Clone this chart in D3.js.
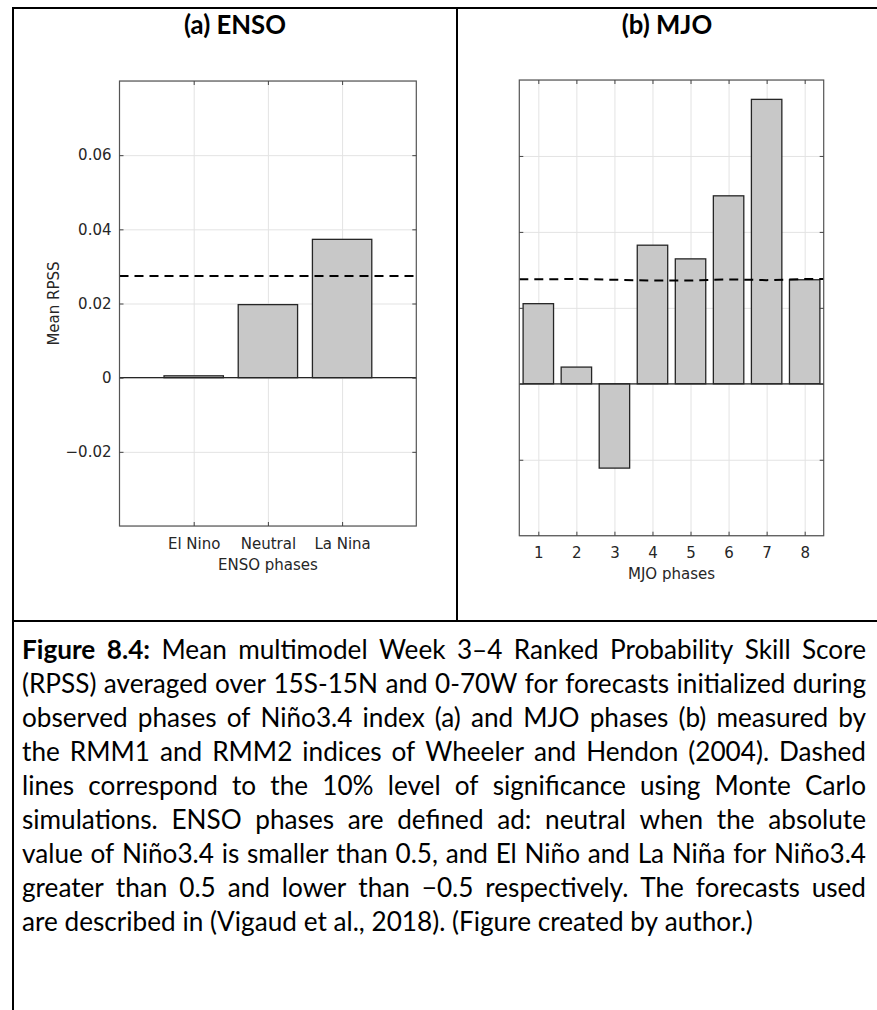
<!DOCTYPE html>
<html><head><meta charset="utf-8">
<script src="https://cdn.jsdelivr.net/npm/d3@7"></script>
<style>body{margin:0;background:#fff}</style>
</head><body><svg id="c" width="877" height="1010"></svg>
<script>
// ---------------- data ----------------
const ensoPhases = ["El Nino", "Neutral", "La Nina"];
const ensoRPSS = [0.0005, 0.0197, 0.0373];
const ensoSig = 0.0274;
const mjoPhases = ["1", "2", "3", "4", "5", "6", "7", "8"];
const mjoRPSS = [0.0211, 0.0044, -0.0222, 0.0365, 0.0329, 0.0495, 0.0749, 0.0274];
const mjoSig = [0.0275, 0.0276, 0.0274, 0.0272, 0.0272, 0.0275, 0.0273, 0.0276];
const yDomain = [-0.04, 0.08];
const yTicks = [-0.04, -0.02, 0, 0.02, 0.04, 0.06, 0.08];
const yTickLabels = ["", "\u22120.02", "0", "0.02", "0.04", "0.06", ""];
const panelTitles = ["(a) ENSO", "(b) MJO"];
const xTitles = ["ENSO phases", "MJO phases"];
const yTitle = "Mean RPSS";
const captionLead = "Figure 8.4:";
const captionLines = [
  "Figure 8.4: Mean multimodel Week 3\u20134 Ranked Probability Skill Score",
  "(RPSS) averaged over 15S-15N and 0-70W for forecasts initialized during",
  "observed phases of Ni\u00f1o3.4 index (a) and MJO phases (b) measured by",
  "the RMM1 and RMM2 indices of Wheeler and Hendon (2004). Dashed",
  "lines correspond to the 10% level of significance using Monte Carlo",
  "simulations. ENSO phases are defined ad: neutral when the absolute",
  "value of Ni\u00f1o3.4 is smaller than 0.5, and El Ni\u00f1o and La Ni\u00f1a for Ni\u00f1o3.4",
  "greater than 0.5 and lower than \u22120.5 respectively. The forecasts used",
  "are described in (Vigaud et al., 2018). (Figure created by author.)"
];

// ---------------- layout ----------------
const svg = d3.select("#c");
const AX_FONT = "'DejaVu Sans', sans-serif";
const AX_SIZE = 15;
const TXT = "#262626";
const CAP_FONT = "Lato, 'Open Sans', sans-serif";

// frame lines
const frame = svg.append("g").attr("stroke", "#000").attr("stroke-width", 2);
frame.append("line").attr("x1", 12).attr("x2", 877).attr("y1", 8).attr("y2", 8);
frame.append("line").attr("x1", 13).attr("x2", 13).attr("y1", 7).attr("y2", 1010);
frame.append("line").attr("x1", 457).attr("x2", 457).attr("y1", 7).attr("y2", 621);
frame.append("line").attr("x1", 12).attr("x2", 877).attr("y1", 621).attr("y2", 621);

// measuring helper
const meas = svg.append("text").attr("x", -1000).attr("y", -1000);
function textW(s, font, size, weight) {
  meas.attr("font-family", font).attr("font-size", size).attr("font-weight", weight || "normal").text(s);
  return meas.node().getComputedTextLength();
}

// panel titles
const titleSize = 20 * 102 / textW(panelTitles[0], CAP_FONT, 20, "bold");
[[235, panelTitles[0]], [667, panelTitles[1]]].forEach(([cx, t]) => {
  svg.append("text").attr("x", cx).attr("y", 34).attr("text-anchor", "middle")
    .attr("font-family", CAP_FONT).attr("font-weight", "bold").attr("font-size", titleSize)
    .attr("fill", "#000").text(t);
});

function panel(cfg) {
  const {x0, x1, yTop, yBot, xDomain, cats, vals, sig, showYLabels, xTitle} = cfg;
  const x = d3.scaleLinear().domain(xDomain).range([x0, x1]);
  const y = d3.scaleLinear().domain(yDomain).range([yBot, yTop]);
  const xt = cats.map((c, i) => i + 1);
  const g = svg.append("g");
  const w = x1 - x0, h = yBot - yTop;

  // grid
  const gy = g.append("g").attr("transform", `translate(${x0},0)`)
    .call(d3.axisLeft(y).tickValues(yTicks).tickSize(-w).tickFormat(""));
  const gx = g.append("g").attr("transform", `translate(0,${yBot})`)
    .call(d3.axisBottom(x).tickValues(xt).tickSize(-h).tickFormat(""));
  [gy, gx].forEach(a => {
    a.select(".domain").remove();
    a.selectAll("line").attr("stroke", "#e3e3e3").attr("stroke-width", 1);
  });

  // bars
  const step = x(2) - x(1);
  const bw = step * 0.8;
  g.selectAll("rect.bar").data(vals).enter().append("rect").attr("class", "bar")
    .attr("x", (d, i) => x(i + 1) - bw / 2)
    .attr("width", bw)
    .attr("y", d => y(Math.max(0, d)))
    .attr("height", d => Math.abs(y(d) - y(0)))
    .attr("fill", "#c8c8c8").attr("stroke", "#262626").attr("stroke-width", 1.3);

  // zero baseline
  g.append("line").attr("x1", x0).attr("x2", x1).attr("y1", y(0)).attr("y2", y(0))
    .attr("stroke", "#262626").attr("stroke-width", 1.3);

  // significance line
  let sigPts;
  if (Array.isArray(sig)) {
    sigPts = [[xDomain[0], sig[0]]].concat(sig.map((s, i) => [i + 1, s])).concat([[xDomain[1], sig[sig.length - 1]]]);
  } else {
    sigPts = [[xDomain[0], sig], [xDomain[1], sig]];
  }
  g.append("path").datum(sigPts)
    .attr("d", d3.line().x(d => x(d[0])).y(d => y(d[1])))
    .attr("fill", "none").attr("stroke", "#000").attr("stroke-width", 2)
    .attr("stroke-dasharray", "9,6");

  // box
  g.append("rect").attr("x", x0).attr("y", yTop).attr("width", w).attr("height", h)
    .attr("fill", "none").attr("stroke", "#555").attr("stroke-width", 1.2);

  // axes (inward ticks)
  const style = a => {
    a.select(".domain").remove();
    a.selectAll("line").attr("stroke", "#444").attr("stroke-width", 1);
    a.selectAll("text").attr("font-family", AX_FONT).attr("font-size", AX_SIZE).attr("fill", TXT);
  };
  const left = g.append("g").attr("transform", `translate(${x0},0)`)
    .call(d3.axisLeft(y).tickValues(yTicks.slice(1, -1)).tickSize(-4).tickPadding(8)
      .tickFormat(v => showYLabels ? yTickLabels[yTicks.indexOf(v)] : ""));
  style(left);
  const right = g.append("g").attr("transform", `translate(${x1},0)`)
    .call(d3.axisRight(y).tickValues(yTicks.slice(1, -1)).tickSize(-4).tickFormat(""));
  style(right);
  const bottom = g.append("g").attr("transform", `translate(0,${yBot})`)
    .call(d3.axisBottom(x).tickValues(xt).tickSize(-4).tickPadding(12).tickFormat(i => cats[i - 1]));
  style(bottom);
  const top = g.append("g").attr("transform", `translate(0,${yTop})`)
    .call(d3.axisTop(x).tickValues(xt).tickSize(-4).tickFormat(""));
  style(top);

  // axis titles
  g.append("text").attr("x", (x0 + x1) / 2).attr("y", yBot + 43.5).attr("text-anchor", "middle")
    .attr("font-family", AX_FONT).attr("font-size", AX_SIZE).attr("fill", TXT).text(xTitle);
  if (showYLabels) {
    g.append("text").attr("transform", `translate(59,${(yTop + yBot) / 2}) rotate(-90)`)
      .attr("text-anchor", "middle")
      .attr("font-family", AX_FONT).attr("font-size", AX_SIZE).attr("fill", TXT).text(yTitle);
  }
}

panel({x0: 119.5, x1: 416.3, yTop: 81, yBot: 526, xDomain: [0, 4], cats: ensoPhases,
  vals: ensoRPSS, sig: ensoSig, showYLabels: true, xTitle: xTitles[0]});
panel({x0: 519.3, x1: 823.7, yTop: 80, yBot: 535.7, xDomain: [0.5, 8.5], cats: mjoPhases,
  vals: mjoRPSS, sig: mjoSig, showYLabels: false, xTitle: xTitles[1]});

// ---------------- caption (justified) ----------------
const capLeft = 22, capRight = 866, capW = capRight - capLeft;
const leadWords = captionLead.split(" ");
function lineWords(li) {
  return captionLines[li].split(" ").map((w, k) => ({w, bold: li === 0 && k < leadWords.length}));
}
const base = 20;
let maxNat = 0;
captionLines.forEach((l, li) => {
  if (li === captionLines.length - 1) return;
  const ws = lineWords(li);
  const sp = textW("a a", CAP_FONT, base) - textW("aa", CAP_FONT, base);
  const nat = d3.sum(ws, d => textW(d.w, CAP_FONT, base, d.bold ? "bold" : "normal")) + sp * (ws.length - 1);
  maxNat = Math.max(maxNat, nat);
});
const capSize = base * (capW - 6) / maxNat;
const spW = textW("a a", CAP_FONT, capSize) - textW("aa", CAP_FONT, capSize);
const cap = svg.append("g").attr("font-family", CAP_FONT).attr("font-size", capSize).attr("fill", "#000");
captionLines.forEach((l, li) => {
  const ws = lineWords(li);
  ws.forEach(d => d.width = textW(d.w, CAP_FONT, capSize, d.bold ? "bold" : "normal"));
  const total = d3.sum(ws, d => d.width);
  const last = li === captionLines.length - 1;
  const gap = last ? spW : (capW - total) / (ws.length - 1);
  let xx = capLeft;
  const baseY = 659 + li * 34;
  ws.forEach(d => {
    cap.append("text").attr("x", xx).attr("y", baseY)
      .attr("font-weight", d.bold ? "bold" : "normal").text(d.w);
    xx += d.width + gap;
  });
});
meas.remove();
</script>
</body></html>
